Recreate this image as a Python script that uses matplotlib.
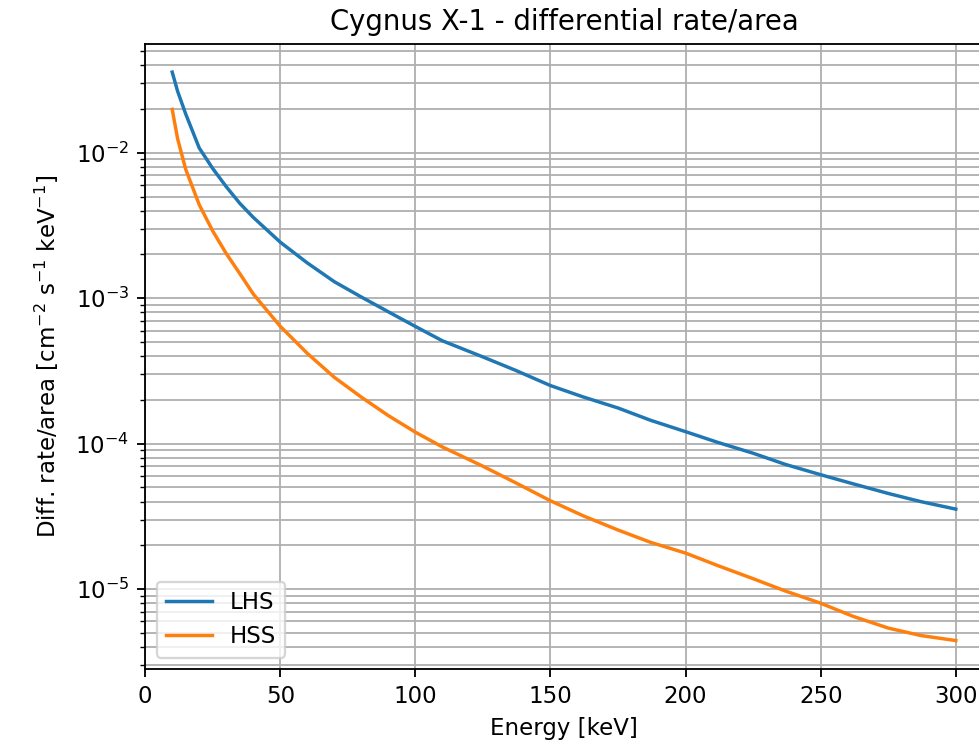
import matplotlib
matplotlib.use('Agg')
import matplotlib.pyplot as plt
import numpy as np

# energies [keV] and differential rate/area
energy = [10, 12, 15, 20, 25, 30, 35, 40, 50, 60, 70, 80, 90, 100,
          110, 125, 137, 150, 162, 175, 187, 200, 212, 225, 237, 250,
          262, 275, 287, 300]
lhs = [0.0359, 0.0265, 0.0185, 0.0108, 0.0078, 0.00585, 0.0045, 0.0036,
       0.00243, 0.00175, 0.0013, 0.00102, 8.07e-4, 6.4e-4,
       5.1e-4, 3.95e-4, 3.2e-4, 2.51e-4, 2.1e-4, 1.76e-4, 1.45e-4, 1.21e-4,
       1.02e-4, 8.6e-5, 7.2e-5, 6.12e-5, 5.3e-5, 4.55e-5, 4.0e-5, 3.55e-5]
hss = [0.0199, 0.0125, 0.0077, 0.0044, 0.0029, 0.00203, 0.00148, 0.00107,
       6.41e-4, 4.18e-4, 2.86e-4, 2.09e-4, 1.56e-4, 1.20e-4,
       9.5e-5, 7.0e-5, 5.4e-5, 4.05e-5, 3.2e-5, 2.55e-5, 2.1e-5, 1.77e-5,
       1.45e-5, 1.18e-5, 9.7e-6, 8.0e-6, 6.5e-6, 5.4e-6, 4.8e-6, 4.43e-6]

dpi = 165
fig = plt.figure(figsize=(979/dpi, 743/dpi), dpi=dpi)
ax = fig.add_axes([0.1483, 0.0996, 0.8556, 0.8416])

ax.plot(energy, lhs, label='LHS')
ax.plot(energy, hss, label='HSS')
ax.set_yscale('log')
ax.set_xlim(0, 310)
ax.grid(True, which='both')
ax.set_title('Cygnus X-1 - differential rate/area')
ax.set_xlabel('Energy [keV]')
ax.set_ylabel('Diff. rate/area [cm$^{-2}$ s$^{-1}$ keV$^{-1}$]', labelpad=6)
ax.legend(loc='lower left')

fig.savefig('out.png', dpi=dpi)
